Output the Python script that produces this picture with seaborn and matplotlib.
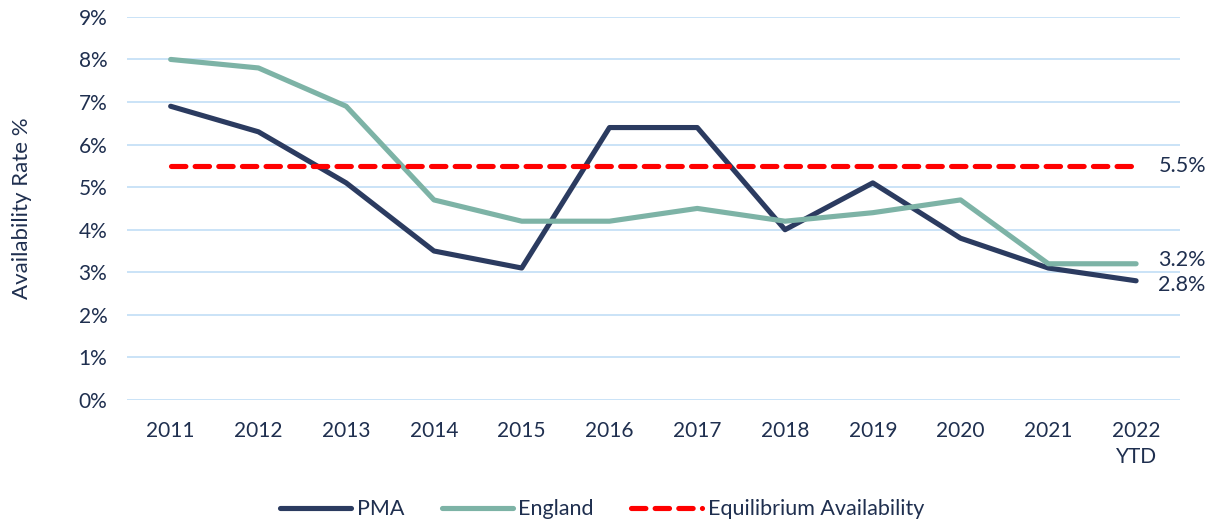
import matplotlib
matplotlib.use("Agg")
import matplotlib.pyplot as plt
import seaborn as sns
import pandas as pd

years = ["2011", "2012", "2013", "2014", "2015", "2016", "2017", "2018",
         "2019", "2020", "2021", "2022\nYTD"]
pma = [6.9, 6.3, 5.1, 3.5, 3.1, 6.4, 6.4, 4.0, 5.1, 3.8, 3.1, 2.8]
england = [8.0, 7.8, 6.9, 4.7, 4.2, 4.2, 4.5, 4.2, 4.4, 4.7, 3.2, 3.2]
equilibrium = [5.5] * len(years)

sns.set_theme(style="white")
plt.rcParams['font.family'] = ['Lato', 'DejaVu Sans']
text_col = "#1F2F4F"

df = pd.DataFrame({"pos": range(len(years)), "PMA": pma,
                   "England": england, "Equilibrium Availability": equilibrium})

fig = plt.figure(figsize=(12.19, 5.27), dpi=100)
ax = fig.add_axes([0.104, 0.241, 0.864, 0.727])

ax.set_axisbelow(True)
ax.grid(axis="y", color="#C6E0F7", linewidth=1.3)

lw = 3.7
sns.lineplot(data=df, x="pos", y="PMA", ax=ax, color="#2B3B60", lw=lw,
             label="PMA", solid_capstyle="round", solid_joinstyle="round")
sns.lineplot(data=df, x="pos", y="England", ax=ax, color="#7DB3A6", lw=lw,
             label="England", solid_capstyle="round", solid_joinstyle="round")
sns.lineplot(data=df, x="pos", y="Equilibrium Availability", ax=ax, color="#FF0000",
             lw=lw, label="Equilibrium Availability", dashes=False,
             linestyle=(0, (2.8, 1.8)), dash_capstyle="round")

ax.set_xlim(-0.5, len(years) - 0.5)
ax.set_ylim(0, 9)
ax.set_yticks(range(0, 10))
ax.set_yticklabels([f"{v}%" for v in range(0, 10)])
ax.set_xticks(range(len(years)))
ax.set_xticklabels(years, linespacing=1.4)
ax.tick_params(axis="both", labelsize=15, colors=text_col, length=0)
ax.tick_params(axis="x", pad=15)
ax.tick_params(axis="y", pad=14)
ax.set_xlabel("")
ax.set_ylabel("Availability Rate %", fontsize=16, color=text_col)
ax.yaxis.set_label_coords(-0.09, 0.5)
for s in ax.spines.values():
    s.set_visible(False)

# end-of-line value labels
last = len(years) - 1
for val, dy in [(equilibrium[-1], 0), (england[-1], 3), (pma[-1], -3)]:
    ax.annotate(f"{val:.1f}%", xy=(last, val), xytext=(16, dy),
                textcoords="offset points", va="center", ha="left",
                fontsize=15.5, color=text_col, annotation_clip=False)

handles, labels = ax.get_legend_handles_labels()
ax.get_legend().remove()
leg = fig.legend(handles, labels, loc="center", bbox_to_anchor=(0.494, 0.034),
                 ncol=3, frameon=False, fontsize=15.5, handlelength=3.3,
                 columnspacing=1.75, handletextpad=0.25)
for t in leg.get_texts():
    t.set_color(text_col)

fig.savefig("out.png", dpi=100)
